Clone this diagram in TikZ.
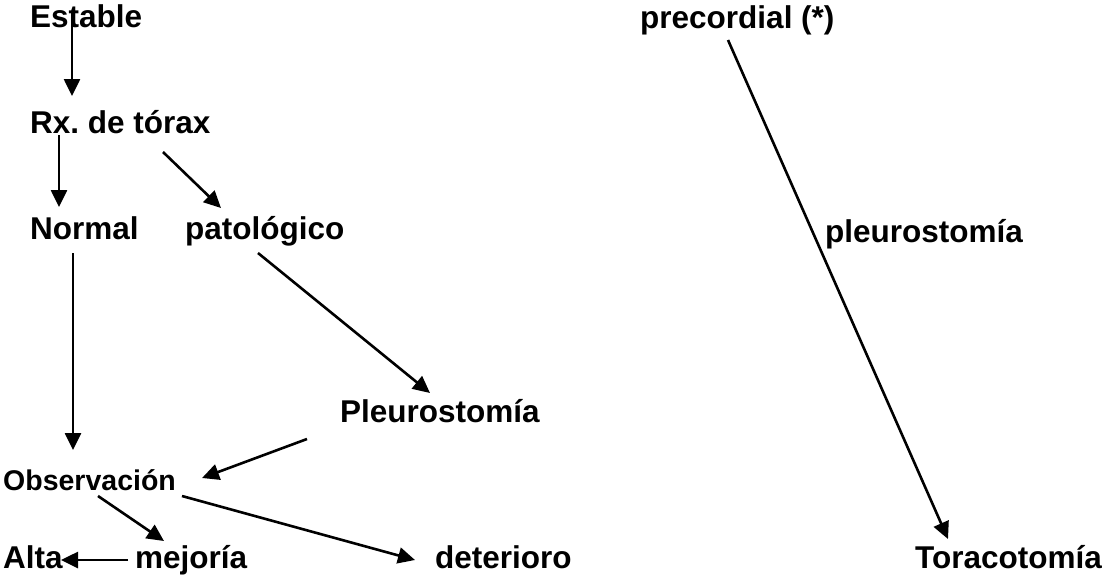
\documentclass[tikz,border=0pt]{standalone}
\usepackage{fontspec}
\setmainfont{Liberation Sans}
\usetikzlibrary{arrows.meta}
\frenchspacing
\begin{document}
\begin{tikzpicture}[x=1pt,y=-1pt,
  lbl/.style={anchor=base west,inner sep=0pt,font=\fontsize{31.5}{36}\selectfont\bfseries},
  lblsmall/.style={anchor=base west,inner sep=0pt,font=\fontsize{28.5}{34}\selectfont\bfseries},
  link/.style={line width=2.6pt,-{Triangle[length=17pt,width=16pt]}}]
\useasboundingbox (0,0) rectangle (1107,579);

% left-hand flow
\node[lbl] (est) at (30,27) {Estable};
\node[lbl] (rx) at (30,133) {Rx. de tórax};
\node[lbl] (nor) at (30,239) {Normal};
\node[lbl] (pat) at (185,239) {patológico};
\node[lbl] (ple) at (340,422) {Pleurostomía};
\node[lblsmall] (obs) at (3,490) {Observación};
\node[lbl] (alt) at (3,568) {Alta};
\node[lbl] (mej) at (135,568) {mejoría};
\node[lbl] (det) at (435,568) {deterioro};

% right-hand flow
\node[lbl] (pre) at (640,28) {precordial (*)};
\node[lbl] (plm) at (825,242) {pleurostomía};
\node[lbl] (tor) at (915,568) {Toracotomía};

\draw[link] ([shift={(42,-15)}]est.base west) -- ([shift={(42,69)}]est.base west);
\draw[link] ([shift={(29,2)}]rx.base west) -- ([shift={(29,-32)}]nor.base west);
\draw[link] ([shift={(133,19)}]rx.base west) -- ([shift={(36,-31)}]pat.base west);
\draw[link] ([shift={(43,14)}]nor.base west) -- ([shift={(70,-40)}]obs.base west);
\draw[link] ([shift={(73,14)}]pat.base west) -- ([shift={(90,-29)}]ple.base west);
\draw[link] ([shift={(-33,17)}]ple.base west) -- ([shift={(199,-12)}]obs.base west);
\draw[link] ([shift={(95,6)}]obs.base west) -- ([shift={(29,-27)}]mej.base west);
\draw[link] ([shift={(179,6)}]obs.base west) -- ([shift={(-20,-8)}]det.base west);
\draw[link] ([shift={(-7,-8)}]mej.base west) -- ([shift={(58,-8)}]alt.base west);
\draw[link] ([shift={(88,12)}]pre.base west) -- ([shift={(33,-29)}]tor.base west);
\end{tikzpicture}
\end{document}
